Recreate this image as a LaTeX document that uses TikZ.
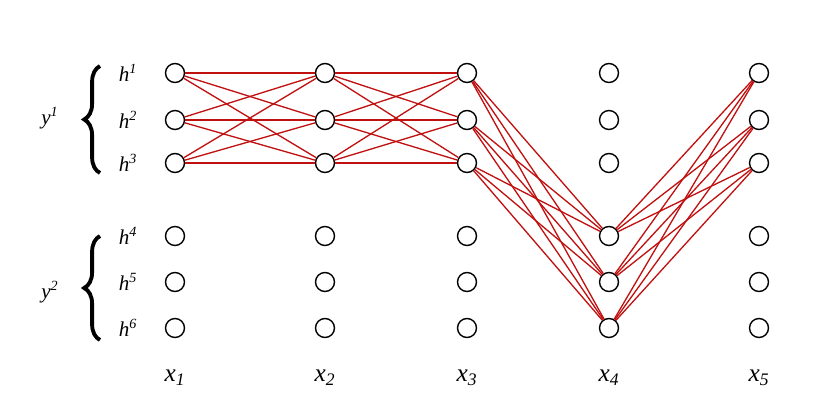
\documentclass[tikz,border=0pt]{standalone}
\usepackage{fontspec}
\setmainfont{Liberation Serif}
\usetikzlibrary{decorations.pathreplacing}
\definecolor{edgered}{RGB}{192,16,16}
\tikzset{
 unit/.style={circle,draw,thick,minimum size=0.38cm,inner sep=0pt},
 link/.style={edgered,line width=0.75pt},
}
\begin{document}
\begin{tikzpicture}[x=0.02cm,y=-0.02cm]
 \useasboundingbox (0,0) rectangle (830,401);
 % units
 \foreach \c/\px in {1/175,2/325,3/467,4/609,5/759}{
  \foreach \r/\py in {1/73,2/120,3/163,4/236,5/282,6/328}{
   \node[unit] (n\c\r) at (\px,\py) {};
  }
  \node (x\c) at (\px,378) {\Large\textit{x}\textsubscript{\textit{\c}}};
 }
 % hidden labels
 \foreach \r/\py in {1/73,2/120,3/163,4/236,5/282,6/328}
  \node (h\r) at (128,\py) {\large\textit{h}\textsuperscript{\textit{\r}}};
 \draw[line width=2.2pt,decorate,decoration={brace,amplitude=9pt}]
  (100,173) -- (100,66);
 \draw[line width=2.2pt,decorate,decoration={brace,amplitude=9pt}]
  (100,340) -- (100,236);
 \node (y1) at (50,118) {\large\textit{y}\textsuperscript{\textit{1}}};
 \node (y2) at (50,292) {\large\textit{y}\textsuperscript{\textit{2}}};
 % connections
 \foreach \a in {1,2,3}{
  \foreach \b in {1,2,3}{
   \draw[link] (n1\a) -- (n2\b);
   \draw[link] (n2\a) -- (n3\b);
  }
  \foreach \b in {4,5,6}{
   \draw[link] (n3\a) -- (n4\b);
   \draw[link] (n4\b) -- (n5\a);
  }
 }
\end{tikzpicture}
\end{document}
